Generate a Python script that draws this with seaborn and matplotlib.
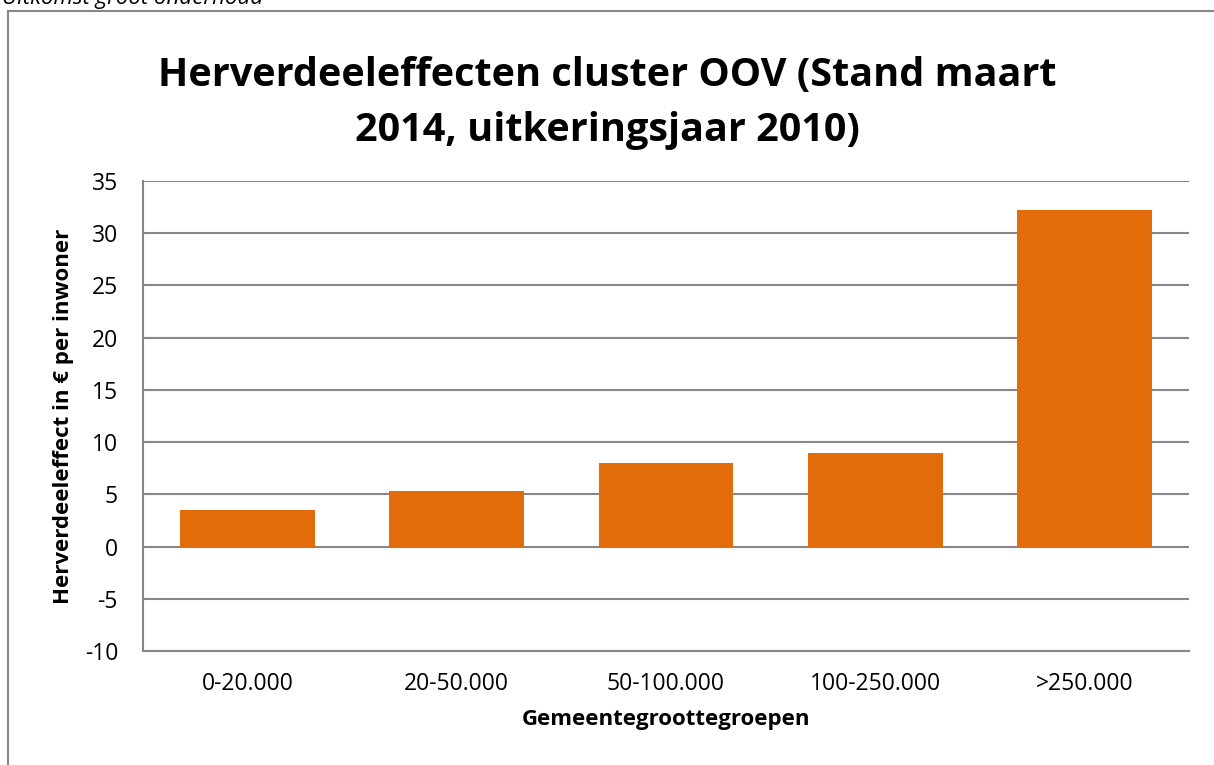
import matplotlib
matplotlib.use("Agg")
import matplotlib.pyplot as plt
import pandas as pd
import seaborn as sns

categories = ["0-20.000", "20-50.000", "50-100.000", "100-250.000", ">250.000"]
values = [3.5, 5.3, 8.0, 9.0, 32.2]
yticks = [-10, -5, 0, 5, 10, 15, 20, 25, 30, 35]

TITLE_1 = "Herverdeeleffecten cluster OOV (Stand maart"
TITLE_2 = "2014, uitkeringsjaar 2010)"
ORANGE = "#E36C0A"
GRID = "#878787"
W, H = 1214, 765

sns.set_theme(style="white")
plt.rcParams["font.family"] = ["Open Sans", "DejaVu Sans"]
plt.rcParams["text.color"] = "black"
plt.rcParams["axes.labelcolor"] = "black"
plt.rcParams["axes.unicode_minus"] = False

df = pd.DataFrame({"groep": categories, "effect": values})

fig = plt.figure(figsize=(W / 100, H / 100), dpi=100)
ax = fig.add_axes([143 / W, 1 - 651 / H, 1046 / W, 470 / H])

sns.barplot(data=df, x="groep", y="effect", color=ORANGE, saturation=1,
            width=0.645, linewidth=0, ax=ax, zorder=3)

ax.set_ylim(-10, 35)
ax.set_yticks(yticks)
ax.set_xlim(-0.5, 4.5)
ax.yaxis.grid(True, color=GRID, linewidth=1.5, zorder=0)
ax.set_axisbelow(True)
for side in ["top", "right"]:
    ax.spines[side].set_visible(False)
for side in ["left", "bottom"]:
    ax.spines[side].set_color(GRID)
    ax.spines[side].set_linewidth(1.5)
ax.tick_params(axis="both", length=0, labelsize=16.5, colors="black")
ax.tick_params(axis="x", pad=15)
ax.tick_params(axis="y", pad=18)

ax.set_xlabel("Gemeentegroottegroepen", fontsize=16, fontweight="bold", va="center")
ax.set_ylabel("Herverdeeleffect in € per inwoner", fontsize=16, fontweight="bold", va="center")
ax.xaxis.set_label_coords(0.5, (651 - 720) / 470)
ax.yaxis.set_label_coords((64 - 143) / 1046, 0.5)

fig.text(0.5, 1 - 75 / H, TITLE_1, ha="center", va="center", fontsize=28.5, fontweight="bold")
fig.text(0.5, 1 - 130 / H, TITLE_2, ha="center", va="center", fontsize=28.5, fontweight="bold")

# chart frame and the cut-off heading of the source page
fig.add_artist(plt.Line2D([8 / W, 8 / W], [0, 1 - 11 / H], color=GRID, linewidth=1.5))
fig.add_artist(plt.Line2D([8 / W, 1], [1 - 11 / H, 1 - 11 / H], color=GRID, linewidth=1.5))
fig.text(2 / W, 1 - 4 / H, "Uitkomst groot onderhoud", fontsize=16, style="italic",
         va="baseline", ha="left")

fig.savefig("out.png", dpi=100)
